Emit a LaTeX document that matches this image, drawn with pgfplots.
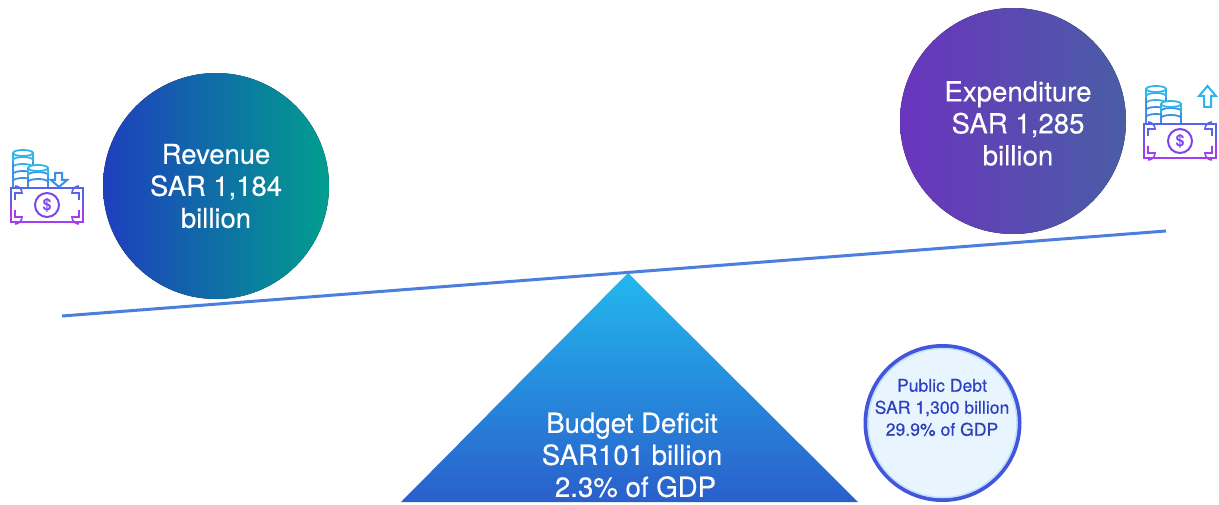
\documentclass[border=0pt]{standalone}
\usepackage{pgfplots}
\pgfplotsset{compat=1.18}
\usepackage{fontspec}
\setmainfont{TeX Gyre Heros}
\newfontfamily\medf[FakeBold=0.3]{TeX Gyre Heros}
\definecolor{cA}{HTML}{2FB6E8}
\definecolor{cB}{HTML}{3A8FE6}
\definecolor{cC}{HTML}{5A62EC}
\definecolor{cD}{HTML}{7B45F0}
\definecolor{cE}{HTML}{A23EF2}
\definecolor{revL}{HTML}{1E3FBE}
\definecolor{revR}{HTML}{009E8E}
\definecolor{expL}{HTML}{6A35BE}
\definecolor{expR}{HTML}{4A5DA5}
\definecolor{triT}{HTML}{22B8EE}
\definecolor{triB}{HTML}{2A5FCB}
\definecolor{beam}{HTML}{4A7FDC}
\definecolor{debtF}{HTML}{E8F5FE}
\definecolor{debtD}{HTML}{4355DC}
\definecolor{debtR}{HTML}{BFE0FA}
\definecolor{debtT}{HTML}{2B3FBF}
\newcommand\stack[4]{% x, ytop, ybottom, list of y/colour
  \foreach \yy/\cc in {#4}{\draw[\cc,line width=1.8pt] (#1,\yy) arc[start angle=180,end angle=360,x radius=10,y radius=3];}
  \draw[cA,line width=1.8pt] (#1+10,#2) ellipse[x radius=10,y radius=3];
  \draw[cA,line width=1.8pt] (#1,#2)--(#1,#2+9);
  \draw[cA,line width=1.8pt] (#1+20,#2)--(#1+20,#2+9);
  \draw[cB,line width=1.8pt] (#1,#2+9)--(#1,#3);
  \draw[cB,line width=1.8pt] (#1+20,#2+9)--(#1+20,#3);
}
\newcommand\moneyicon[2]{%
\begin{scope}[shift={({#1*1pt},{(504-#2)*1pt})},x=1pt,y=-1pt]
  \stack{2}{-35}{0}{-28/cA,-21/cA,-14/cB,-7/cB}
  \fill[white] (16,-22) rectangle (38,0);
  \stack{17}{-20}{0}{-13/cB,-6/cB}
  \draw[cC,line width=2.1pt] (0,17)--(0,0)--(72,0)--(72,17);
  \draw[cE,line width=2.1pt] (0,17)--(0,34)--(72,34)--(72,17);
  \draw[cC,line width=1.6pt] (4,12)--(4,5)--(11,5) arc[start angle=0,end angle=-90,radius=7];
  \draw[cC,line width=1.6pt] (68,12)--(68,5)--(61,5) arc[start angle=180,end angle=270,radius=7];
  \draw[cE,line width=1.6pt] (4,22)--(4,29)--(11,29) arc[start angle=0,end angle=90,radius=7];
  \draw[cE,line width=1.6pt] (68,22)--(68,29)--(61,29) arc[start angle=180,end angle=90,radius=7];
  \draw[cD,line width=2pt] (36,17) circle[radius=12];
  \node[cD,font=\fontsize{16}{16}\selectfont\bfseries,inner sep=0] at (36,17) {\$};
\end{scope}}
\begin{document}
\begin{tikzpicture}[x=1pt,y=1pt]
\useasboundingbox (0,0) rectangle (1219pt,504pt);
\begin{axis}[at={(0,0)},anchor=south west,scale only axis,width=1219pt,height=504pt,
  xmin=0,xmax=1219,ymin=0,ymax=504,y dir=reverse,hide axis,clip=false]
% balance beam
\addplot[beam,line width=3pt,no marks] coordinates {(62,316) (1166,231)};
% triangle
\addplot[draw=none,top color=triT,bottom color=triB,no marks] coordinates {(628,273) (858,502) (401,502)} -- cycle;
% circles
\fill[left color=revL,right color=revR] (axis cs:216,186) circle[radius=113];
\fill[left color=expL,right color=expR] (axis cs:1013,121) circle[radius=113];
\draw[debtD,line width=4pt,fill=debtF] (axis cs:942.5,423) circle[radius=77];
\draw[debtR,line width=1.5pt] (axis cs:942.5,423) circle[radius=74.5];
% texts
\node[white,align=center,font=\medf\fontsize{27.4}{32}\selectfont,inner sep=0] at (axis cs:216,186) {Revenue\\SAR 1,184\\billion};
\node[white,align=center,font=\medf\fontsize{27.6}{32}\selectfont,inner sep=0] at (axis cs:1018,123.5) {Expenditure\\SAR 1,285\\billion};
\node[white,align=center,font=\medf\fontsize{27.6}{32}\selectfont,inner sep=0] at (axis cs:632,455) {Budget Deficit\\SAR101 billion\\\hspace*{7pt}2.3\% of GDP};
\node[debtT,align=center,font=\medf\fontsize{17.6}{22}\selectfont,inner sep=0] at (axis cs:942,407.5) {Public Debt\\SAR 1,300 billion\\29.9\% of GDP};
\end{axis}
\moneyicon{11}{188}
\moneyicon{1144}{124}
% arrows
\begin{scope}[shift={(0pt,504pt)},x=1pt,y=-1pt]
\draw[cB,line width=2pt,line join=miter] (55,173)--(62,173)--(62,180)--(67,180)--(59,187)--(51,180)--(55,180)--cycle;
\draw[cA,line width=2pt,line join=miter] (1204,107)--(1211,107)--(1211,96)--(1216,96)--(1207.5,86)--(1199,96)--(1204,96)--cycle;
\end{scope}
\end{tikzpicture}
\end{document}
